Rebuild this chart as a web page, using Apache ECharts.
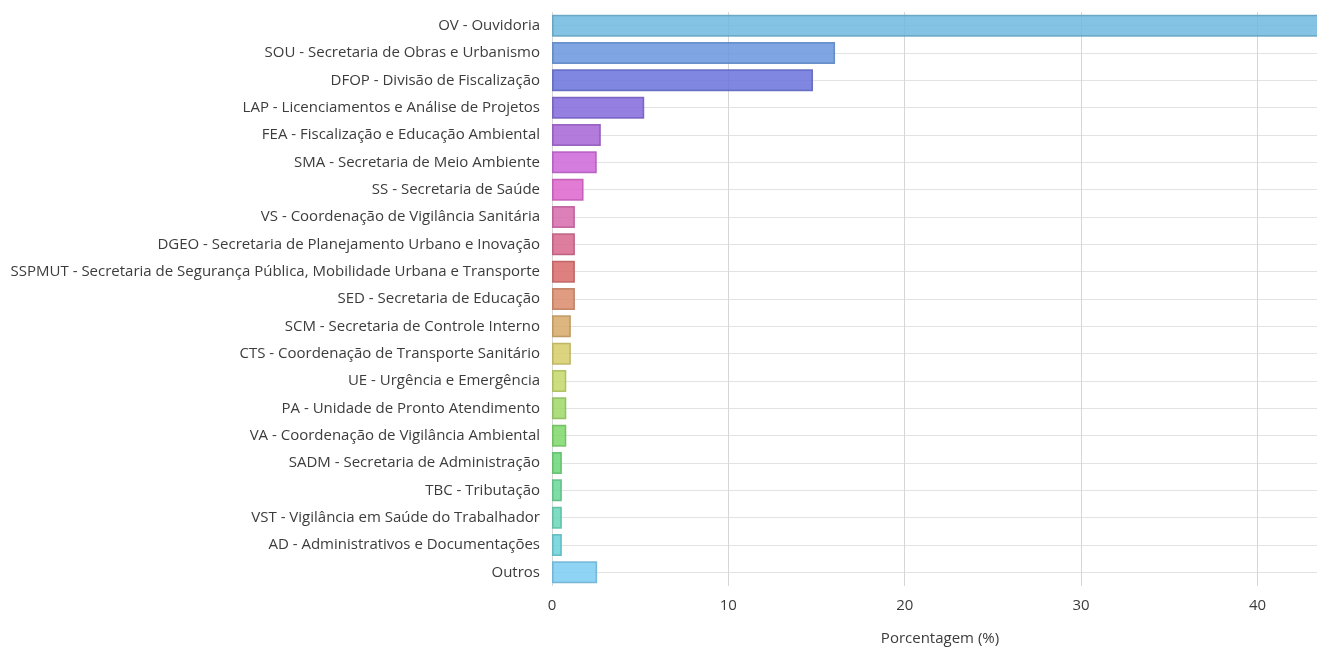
<!DOCTYPE html>
<html>
<head>
<meta charset="utf-8">
<script src="https://cdn.jsdelivr.net/npm/echarts@6/dist/echarts.min.js"></script>
<style>
html,body{margin:0;padding:0;background:#fff;overflow:hidden;}
#chart{width:1317px;height:647px;}
</style>
</head>
<body>
<div id="chart"></div>
<script>
const categories = [
  "OV - Ouvidoria",
  "SOU - Secretaria de Obras e Urbanismo",
  "DFOP - Divisão de Fiscalização",
  "LAP - Licenciamentos e Análise de Projetos",
  "FEA - Fiscalização e Educação Ambiental",
  "SMA - Secretaria de Meio Ambiente",
  "SS - Secretaria de Saúde",
  "VS - Coordenação de Vigilância Sanitária",
  "DGEO - Secretaria de Planejamento Urbano e Inovação",
  "SSPMUT - Secretaria de Segurança Pública, Mobilidade Urbana e Transporte",
  "SED - Secretaria de Educação",
  "SCM - Secretaria de Controle Interno",
  "CTS - Coordenação de Transporte Sanitário",
  "UE - Urgência e Emergência",
  "PA - Unidade de Pronto Atendimento",
  "VA - Coordenação de Vigilância Ambiental",
  "SADM - Secretaria de Administração",
  "TBC - Tributação",
  "VST - Vigilância em Saúde do Trabalhador",
  "AD - Administrativos e Documentações",
  "Outros"
];
const percentages = [43.8, 16.05, 14.8, 5.23, 2.77, 2.54, 1.79, 1.3, 1.3, 1.3, 1.3, 1.07, 1.07, 0.81, 0.81, 0.81, 0.56, 0.56, 0.56, 0.56, 2.56];
const xTicks = [0, 10, 20, 30, 40];
const axisTitle = "Porcentagem (%)";

const barColors = ["#85C3E3","#7FA7E3","#7F87E0","#957FE0","#B27BDC","#D47DDF","#E27BD4","#DD7FB8","#DE7E9E","#DF8080","#DF9C80","#DDB67F","#DCD47F","#CCDE7F","#ACDE7E","#90DE80","#80DD8B","#7FDDA6","#7FDDC4","#7FD9DF","#8FD4F4"];

// convert an opaque colour seen over white into a translucent one with the same look
function translucent(hex, a, f) {
  const n = parseInt(hex.slice(1), 16);
  const ch = [(n >> 16) & 255, (n >> 8) & 255, n & 255].map(c => {
    const d = c * f;
    return Math.max(0, Math.min(255, Math.round((d - 255 * (1 - a)) / a)));
  });
  return "rgba(" + ch.join(",") + "," + a + ")";
}

const chart = echarts.init(document.getElementById('chart'), null, {renderer: 'canvas'});
const font = "'Open Sans', 'Noto Sans', sans-serif";
chart.setOption({
  animation: false,
  backgroundColor: '#fff',
  textStyle: {fontFamily: font},
  grid: {left: 552, width: 776, top: 12, bottom: 61, containLabel: false, outerBoundsMode: 'none'},
  xAxis: {
    type: 'value',
    min: 0,
    max: 44,
    interval: 10,
    axisLine: {show: false},
    axisTick: {show: false},
    axisLabel: {show: true, showMaxLabel: false, color: '#3c3c3c', fontSize: 15, margin: 12, fontFamily: font,
      formatter: v => xTicks.includes(v) ? String(v) : ''},
    splitLine: {show: true, lineStyle: {color: '#d6d6d6', width: 1}},
    name: axisTitle,
    nameLocation: 'middle',
    nameGap: 45,
    nameTextStyle: {color: '#3c3c3c', fontSize: 15, fontFamily: font}
  },
  yAxis: {
    type: 'category',
    data: categories,
    inverse: true,
    axisLine: {show: false},
    axisTick: {show: false},
    axisLabel: {color: '#3c3c3c', fontSize: 15, margin: 12, fontFamily: font},
    splitLine: {show: true, alignWithLabel: true, lineStyle: {color: '#e3e3e3', width: 1}}
  },
  series: [{
    type: 'bar',
    data: percentages.map((v, i) => ({
      value: v,
      itemStyle: {color: translucent(barColors[i], 0.85, 1), borderColor: translucent(barColors[i], 0.85, 0.88), borderWidth: 1.5}
    })),
    barWidth: 22,
    z: 3
  }]
});
</script>
</body>
</html>
